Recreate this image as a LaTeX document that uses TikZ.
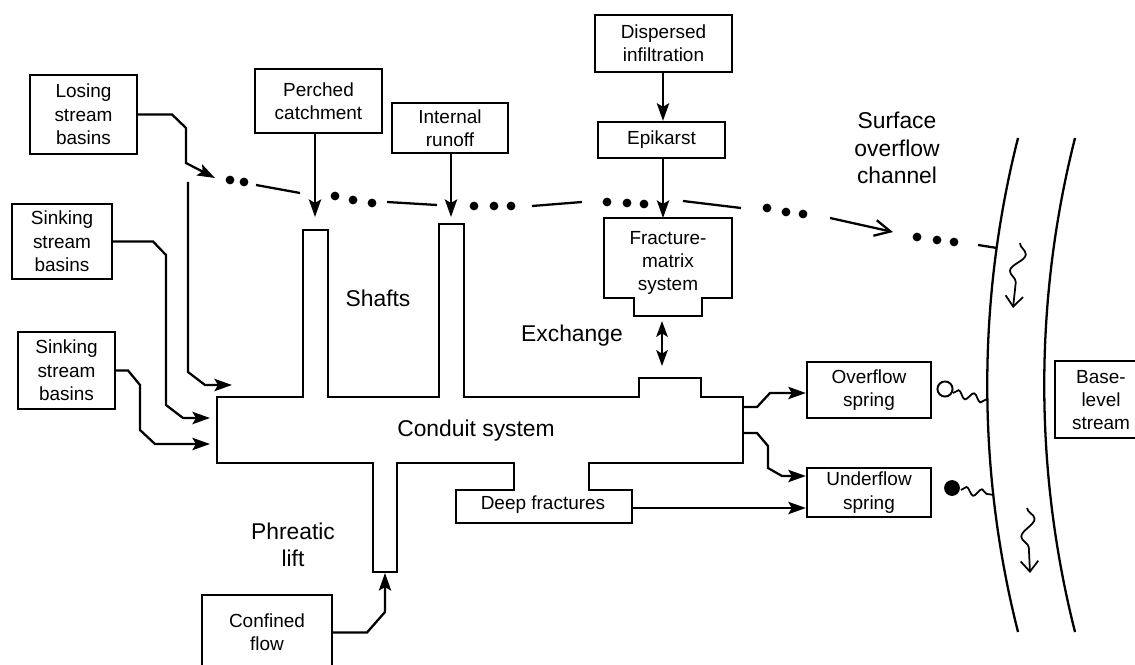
\documentclass[tikz,border=0pt]{standalone}
\usepackage{fontspec}
\setmainfont{Liberation Sans}
\usetikzlibrary{arrows.meta,decorations.pathmorphing}
\begin{document}
\begin{tikzpicture}[x=0.02cm,y=-0.02cm,
  ln/.style={line width=1.3pt, line join=miter},
  bx/.style={draw, line width=1.3pt, inner sep=0pt, align=center, font=\fontsize{10.8}{13.3}\selectfont},
  txt/.style={inner sep=0pt, align=center, font=\fontsize{10.8}{13.3}\selectfont},
  lbl/.style={inner sep=0pt, align=center, font=\fontsize{13}{15.6}\selectfont},
  arr/.style={line width=1.3pt, line join=miter, -{Stealth[length=10pt,width=7pt,inset=2pt]}},
  darr/.style={line width=1.3pt, {Stealth[length=9pt,width=6.5pt,inset=2pt]}-{Stealth[length=9pt,width=6.5pt,inset=2pt]}},
  barb/.style={line width=1.3pt, -{Straight Barb[length=9pt,width=9pt]}},
  wav/.style={line width=1pt, decorate, decoration={snake, amplitude=2.2pt, segment length=9pt}},
  swav/.style={line width=1pt, -{Straight Barb[length=6pt,width=10pt]}, decorate, decoration={snake, amplitude=4pt, segment length=20pt, post length=5pt}},
]
\clip (0,0) rectangle (1135,665);
\fill[white] (0,0) rectangle (1135,665);

% boxes
\node[bx, minimum width=2.14cm, minimum height=1.58cm] (losing) at (83.5,114.5) {Losing\\stream\\basins};
\node[bx, minimum width=2.0cm, minimum height=1.5cm] (sinkA) at (62,241.5) {Sinking\\stream\\basins};
\node[bx, minimum width=1.94cm, minimum height=1.54cm] (sinkB) at (66.5,370.5) {Sinking\\stream\\basins};
\node[bx, minimum width=2.54cm, minimum height=1.28cm] (perched) at (318.5,101) {Perched\\catchment};
\node[bx, minimum width=2.32cm, minimum height=1.0cm] (internal) at (450,128) {Internal\\runoff};
\node[bx, minimum width=2.74cm, minimum height=1.14cm] (dispersed) at (663.5,43.5) {Dispersed\\infiltration};
\node[bx, minimum width=2.54cm, minimum height=0.72cm] (epikarst) at (661.5,140) {Epikarst};
\node[bx, minimum width=2.48cm, minimum height=1.12cm] (overflow) at (869,390) {Overflow\\spring};
\node[bx, minimum width=2.48cm, minimum height=0.98cm] (underflow) at (869,492.5) {Underflow\\spring};
\draw[ln] (1140,361) -- (1055,361) -- (1055,438) -- (1140,438);
\node[txt] (base) at (1101,400) {Base-\\level\\stream};
\node[bx, minimum width=2.6cm, minimum height=1.5cm] (confined) at (267,632.5) {Confined\\flow};

% conduit system outline
\draw[ln] (217,397) -- (303,397) -- (303,230) -- (328,230) -- (328,397) -- (439,397) -- (439,224) -- (464,224) -- (464,397) -- (639,397) -- (639,378) -- (701,378) -- (701,397) -- (743,397) -- (743,463) -- (589,463) -- (589,490) -- (632,490) -- (632,523) -- (456,523) -- (456,490) -- (514,490) -- (514,463) -- (397,463) -- (397,572) -- (373,572) -- (373,463) -- (217,463) -- cycle;
\node[lbl] (conduit) at (476,431) {Conduit system};
\node[txt] (deep) at (543,505) {Deep fractures};

% fracture-matrix system
\draw[ln] (604,218) -- (732,218) -- (732,298) -- (702,298) -- (702,316) -- (634,316) -- (634,298) -- (604,298) -- cycle;
\node[txt] (fm) at (668,263) {Fracture-\\matrix\\system};

% labels
\node[lbl] (shafts) at (378,298) {Shafts};
\node[lbl] (exchange) at (572,336) {Exchange};
\node[lbl] (phreatic) at (293,545) {Phreatic\\lift};
\node[lbl] (surface) at (897,148) {Surface\\overflow\\channel};

% named coordinates
\coordinate (lsTip) at (215,178);
\coordinate (lsBranch) at (188,182);
\coordinate (inC) at (232,385);
\coordinate (inA) at (210,418);
\coordinate (inB) at (210,444);
\coordinate (shaftA) at (315,217);
\coordinate (shaftB) at (451,217);
\coordinate (fmTop) at (663,218);
\coordinate (exTop) at (662,321);
\coordinate (exBot) at (662,366);
\coordinate (outO) at (743,407);
\coordinate (outU) at (743,433);
\coordinate (deepE) at (632,508);
\coordinate (lift) at (385,573);

% connectors
\draw[arr] (losing.east) -- (172,114.5) -- (186,128) -- (186,163) -- (lsTip);
\draw[arr] (lsBranch) -- (188,372) -- (205,385) -- (inC);
\draw[arr] (sinkA.east) -- (153,241.5) -- (166,255) -- (166,405) -- (183,418) -- (inA);
\draw[arr] (sinkB.east) -- (128,370.5) -- (140,385) -- (140,430) -- (155,444) -- (inB);
\draw[arr] (perched.south -| shaftA) -- (shaftA);
\draw[arr] (internal.south -| shaftB) -- (shaftB);
\draw[arr] (dispersed.south -| fmTop) -- (epikarst.north -| fmTop);
\draw[arr] (epikarst.south -| fmTop) -- (fmTop);
\draw[darr] (exTop) -- (exBot);
\draw[arr] (outO) -- (757,407) -- (770,393) -- (overflow.west |- 770,393);
\draw[arr] (outU) -- (757,433) -- (768,446) -- (768,468) -- (782,476) -- (underflow.west |- 782,476);
\draw[arr] (deepE) -- (underflow.west |- deepE);
\draw[arr] (confined.east) -- (367,632.5) -- (385,612) -- (lift);

% surface flow line
\foreach \p in {(230,180),(244,182),(335,196),(353,200),(372,203),(474,206),(494,206),(511,206),(607,202),(627,203),(644,204),(767,208),(786,212),(803,214),(917,237),(937,240),(954,242)}
  \fill \p circle[radius=2.5pt];
\draw[ln] (256,185) -- (300,193);
\draw[ln] (387,202) -- (437,205);
\draw[ln] (532,206) -- (582,202);
\draw[ln] (683,201) -- (741,208);
\draw[barb] (830,218) -- (893,232);
\draw[ln] (978,245) -- (997,248);

% base-level stream banks
\draw[ln] (1018,138) .. controls (977,300) and (977,470) .. (1018,632);
\draw[ln] (1075,138) .. controls (1034,300) and (1034,470) .. (1075,632);

% springs
\draw[line width=1.1pt] (945,389) circle[radius=4.3pt];
\draw[wav] (953,393) -- (988,400);
\fill (952,488) circle[radius=4.5pt];
\draw[wav] (961,490) -- (994,495);

% flow squiggles in the stream
\draw[swav] (1020,243) -- (1013,308);
\draw[swav] (1027,508) -- (1030,573);
\end{tikzpicture}
\end{document}
